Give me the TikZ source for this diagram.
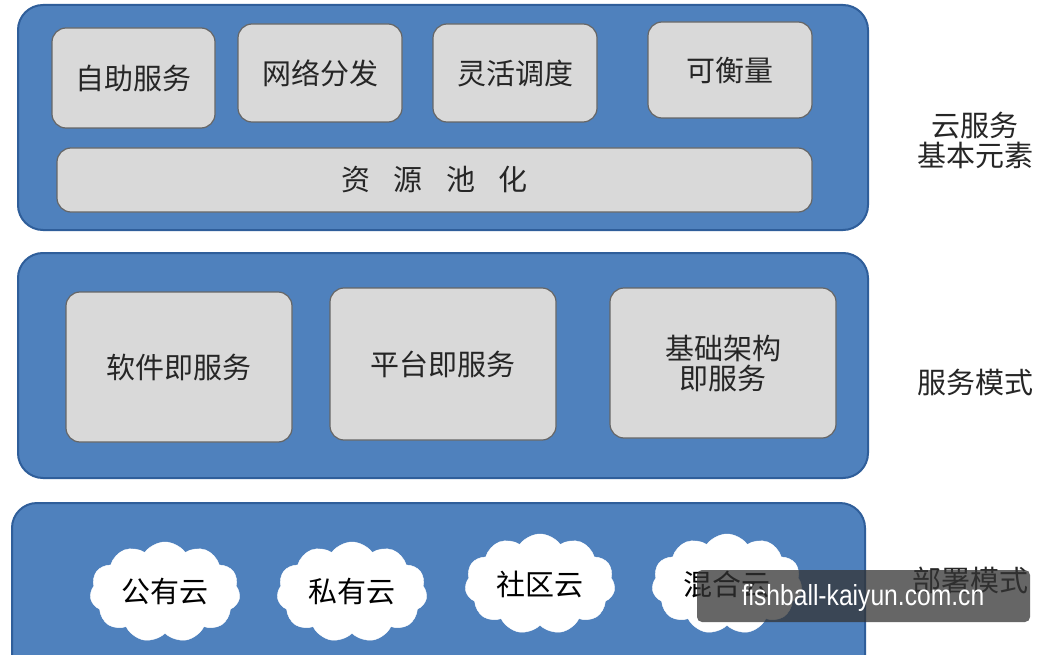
\documentclass[tikz,border=0pt]{standalone}
\usepackage{fontspec}
\newfontfamily\cjk{Noto Sans CJK SC}
\newfontfamily\wmfont[FakeStretch=0.85]{Liberation Sans}
\usetikzlibrary{shapes.symbols}
\definecolor{panelblue}{HTML}{4F81BD}
\definecolor{paneledge}{HTML}{2F5E9A}
\definecolor{boxgray}{HTML}{D9D9D9}
\tikzset{
  panel/.style={draw=paneledge, line width=2pt, fill=panelblue, rounded corners=25pt},
  gbox/.style={draw=gray!80!black, line width=1.2pt, fill=boxgray, rounded corners=14pt},
  lbl/.style={font=\cjk\fontsize{29}{34}\selectfont, text=black!85, align=center},
  cloudnode/.style={cloud, cloud puffs=11, cloud puff arc=110, aspect=1.5, fill=white, draw=white, minimum width=150pt, minimum height=100pt, font=\cjk\fontsize{29}{34}\selectfont, inner sep=0pt},
}
\begin{document}
\begin{tikzpicture}[x=1pt,y=-1pt]
\useasboundingbox (0,0) rectangle (1062,655);
\fill[white] (0,0) rectangle (1062,655);
% top panel
\draw[panel] (18,5) rectangle (868,230);
\draw[gbox] (52,28) rectangle (215,128) node[midway,lbl] (a1) {自助服务};
\draw[gbox] (238,24) rectangle (402,122) node[midway,lbl] (a2) {网络分发};
\draw[gbox] (433,24) rectangle (597,122) node[midway,lbl] (a3) {灵活调度};
\draw[gbox] (648,22) rectangle (812,118) node[midway,lbl] (a4) {可衡量};
\draw[gbox] (57,148) rectangle (812,212) node[midway,lbl] (a5) {资\hspace{0.8em}源\hspace{0.8em}池\hspace{0.8em}化};
% middle panel
\draw[panel] (18,253) rectangle (868,478);
\draw[gbox] (66,292) rectangle (292,442) node[midway,lbl] (b1) {软件即服务};
\draw[gbox] (330,288) rectangle (556,440) node[midway,lbl] (b2) {平台即服务};
\draw[gbox] (610,288) rectangle (836,438) node[midway,lbl] (b3) {基础架构\\[-4pt]即服务};
% bottom panel
\draw[panel] (12,503) rectangle (865,700);
\node[cloudnode] (c1) at (165,592) {公有云};
\node[cloudnode] (c2) at (352,592) {私有云};
\node[cloudnode] (c3) at (540,584) {社区云};
\node[cloudnode] (c4) at (727,584) {混合云};
% right labels
\node[lbl] (r1) at (975,140) {云服务\\[-4pt]基本元素};
\node[lbl] (r2) at (975,382) {服务模式};
\node[lbl] (r3) at (970,580) {部署模式};
% watermark
\fill[black!80, opacity=0.75, rounded corners=5pt] (697,570) rectangle (1030,622);
\node[font=\wmfont\fontsize{29}{34}\selectfont, text=white] (wm) at (863,598) {fishball-kaiyun.com.cn};
\end{tikzpicture}
\end{document}
